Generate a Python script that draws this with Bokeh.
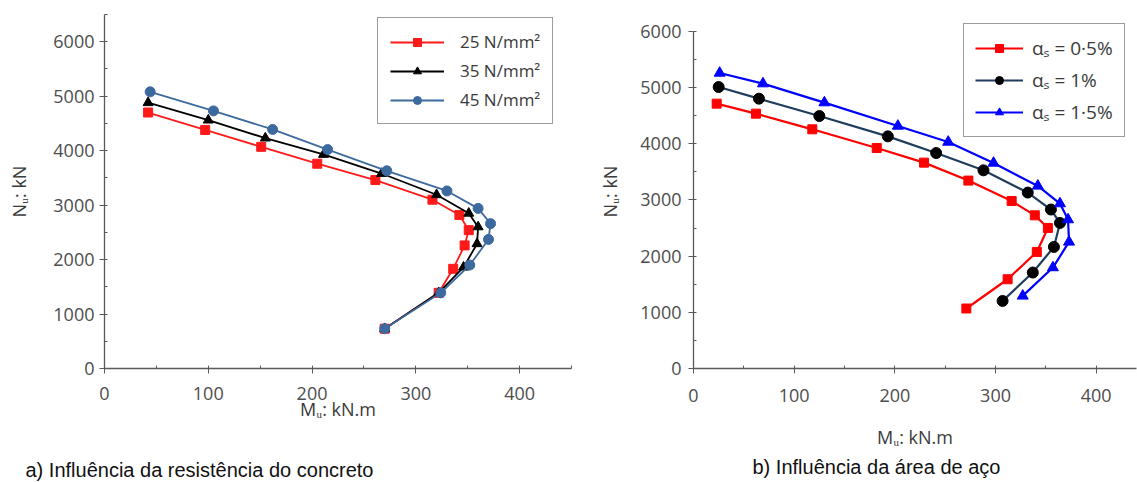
from bokeh.plotting import figure
from bokeh.layouts import row
from bokeh.models import Range1d, SingleIntervalTicker, Legend, LegendItem, Title
from bokeh.embed import file_html
from bokeh.resources import INLINE

# ---- data: (a) influence of concrete strength ----
a_labels = ["25 N/mm²", "35 N/mm²", "45 N/mm²"]
a_M_25 = [42, 97, 151, 205, 261, 316, 342, 351, 347, 336, 322, 270]
a_N_25 = [4700, 4380, 4070, 3760, 3460, 3100, 2820, 2540, 2260, 1830, 1390, 730]
a_M_35 = [42, 100, 155, 211, 267, 320, 351, 360, 359, 346, 322, 270]
a_N_35 = [4880, 4560, 4230, 3930, 3580, 3190, 2850, 2600, 2290, 1860, 1390, 730]
a_M_45 = [44, 105, 162, 215, 272, 330, 360, 372, 370, 352, 324, 270]
a_N_45 = [5080, 4730, 4390, 4020, 3630, 3260, 2940, 2660, 2370, 1900, 1390, 730]

# ---- data: (b) influence of steel area ----
b_labels = ["αₛ = 0·5%", "αₛ = 1%", "αₛ = 1·5%"]
b_M_05 = [23, 62, 118, 182, 229, 273, 316, 339, 352, 341, 312, 271]
b_N_05 = [4715, 4537, 4258, 3925, 3665, 3345, 2982, 2727, 2502, 2075, 1589, 1068]
b_M_10 = [25, 65, 125, 193, 241, 288, 332, 355, 364, 358, 337, 307]
b_N_10 = [5011, 4804, 4495, 4133, 3836, 3528, 3132, 2830, 2591, 2164, 1708, 1203]
b_M_15 = [26, 69, 130, 203, 253, 298, 342, 364, 372, 373, 357, 327]
b_N_15 = [5260, 5071, 4733, 4317, 4032, 3658, 3250, 2936, 2651, 2253, 1797, 1292]

x_label = "Mᵤ: kN.m"
y_label = "Nᵤ: kN"
caption_a = "a) Influência da resistência do concreto"
caption_b = "b) Influência da área de aço"

TICK_FONT = "Open Sans"
AX_COLOR = "#5a5a5a"
TXT_COLOR = "#4d4d4d"


def style_axes(p, ylabel_standoff, xlabel_standoff, xtick_standoff, ytick_standoff):
    for ax in (p.xaxis[0], p.yaxis[0]):
        ax.axis_line_color = AX_COLOR
        ax.axis_line_width = 1.3
        ax.major_tick_line_color = AX_COLOR
        ax.minor_tick_line_color = AX_COLOR
        ax.major_tick_out = 5
        ax.major_tick_in = 0
        ax.minor_tick_out = 0
        ax.minor_tick_in = 3
        ax.major_label_text_font = TICK_FONT
        ax.major_label_text_font_size = "18px"
        ax.major_label_text_color = TXT_COLOR
        ax.axis_label_text_font = TICK_FONT
        ax.axis_label_text_font_size = "18px"
        ax.axis_label_text_font_style = "normal"
        ax.axis_label_text_color = "#3a3a3a"
    p.xaxis[0].axis_label = x_label
    p.yaxis[0].axis_label = y_label
    p.xaxis[0].major_label_standoff = xtick_standoff
    p.yaxis[0].major_label_standoff = ytick_standoff
    p.xaxis[0].axis_label_standoff = xlabel_standoff
    p.yaxis[0].axis_label_standoff = ylabel_standoff
    p.xaxis[0].ticker = SingleIntervalTicker(interval=100, num_minor_ticks=2)
    p.yaxis[0].ticker = SingleIntervalTicker(interval=1000, num_minor_ticks=2)
    p.xgrid.visible = False
    p.ygrid.visible = False
    p.outline_line_color = None


def caption(text, offset, standoff):
    return Title(text=text, text_font="Liberation Sans", text_font_size="20px",
                 text_font_style="normal", text_color="#111111", align="left",
                 offset=offset, standoff=standoff)


H = 482
TOP = 14
BOTTOM = 114

# ---------------- left figure ----------------
pa = figure(width=580, height=H, output_backend="svg", toolbar_location=None,
            x_range=Range1d(0, 450), y_range=Range1d(0, 6500),
            min_border_left=104, min_border_right=9, min_border_top=TOP,
            min_border_bottom=BOTTOM)
style_axes(pa, ylabel_standoff=19, xlabel_standoff=-6, xtick_standoff=13, ytick_standoff=5)
# invisible spacer between the axis label and the caption
pa.add_layout(Title(text=" ", text_font_size="10px", standoff=20), "below")
pa.add_layout(caption(caption_a, -79, 0), "below")

a_series = [
    (a_M_25, a_N_25, "#ff1a1a", "square", 9),
    (a_M_35, a_N_35, "#000000", "triangle", 10),
    (a_M_45, a_N_45, "#3d6a9e", "circle", 10),
]
a_items = []
for (mx, ny, col, mk, sz), lab in zip(a_series, a_labels):
    l = pa.line(mx, ny, line_color=col, line_width=1.8)
    s = pa.scatter(mx, ny, marker=mk, size=sz, fill_color=col, line_color=col)
    a_items.append(LegendItem(label=lab, renderers=[l, s]))

leg_a = Legend(items=a_items, location=(273, 244))
pa.add_layout(leg_a)

# ---------------- right figure ----------------
pb = figure(width=557, height=H, output_backend="svg", toolbar_location=None,
            x_range=Range1d(0, 440), y_range=Range1d(0, 6302),
            min_border_left=113, min_border_right=1, min_border_top=TOP,
            min_border_bottom=BOTTOM)
style_axes(pb, ylabel_standoff=15, xlabel_standoff=20, xtick_standoff=15, ytick_standoff=7)
pb.yaxis[0].bounds = (0, 6000)
pb.add_layout(caption(caption_b, 59, 4), "below")

b_series = [
    (b_M_05, b_N_05, "#ff0000", "#ff0000", "square", 9),
    (b_M_10, b_N_10, "#1f3d5c", "#000000", "circle", 11),
    (b_M_15, b_N_15, "#0000ff", "#0000ff", "triangle", 11),
]
b_items = []
for (mx, ny, lcol, mcol, mk, sz), lab in zip(b_series, b_labels):
    l = pb.line(mx, ny, line_color=lcol, line_width=2.2)
    s = pb.scatter(mx, ny, marker=mk, size=sz, fill_color=mcol, line_color=mcol)
    b_items.append(LegendItem(label=lab, renderers=[l, s]))

leg_b = Legend(items=b_items, location=(270, 231))
pb.add_layout(leg_b)

for leg, gw in ((leg_a, 54), (leg_b, 48)):
    leg.border_line_color = "#3a3a3a"
    leg.border_line_width = 1.3
    leg.background_fill_alpha = 1
    leg.glyph_width = gw
    leg.glyph_height = 20
    leg.label_height = 22
    leg.margin = 0
    leg.label_text_font = TICK_FONT
    leg.label_text_color = "#3a3a3a"

leg_a.label_text_font_size = "17px"
leg_a.padding = 12
leg_a.spacing = 6
leg_a.label_standoff = 16

leg_b.label_text_font_size = "19px"
leg_b.padding = 11
leg_b.spacing = 6
leg_b.label_standoff = 9

layout = row(pa, pb, spacing=0)
open("out.html", "w").write(file_html(layout, INLINE))
